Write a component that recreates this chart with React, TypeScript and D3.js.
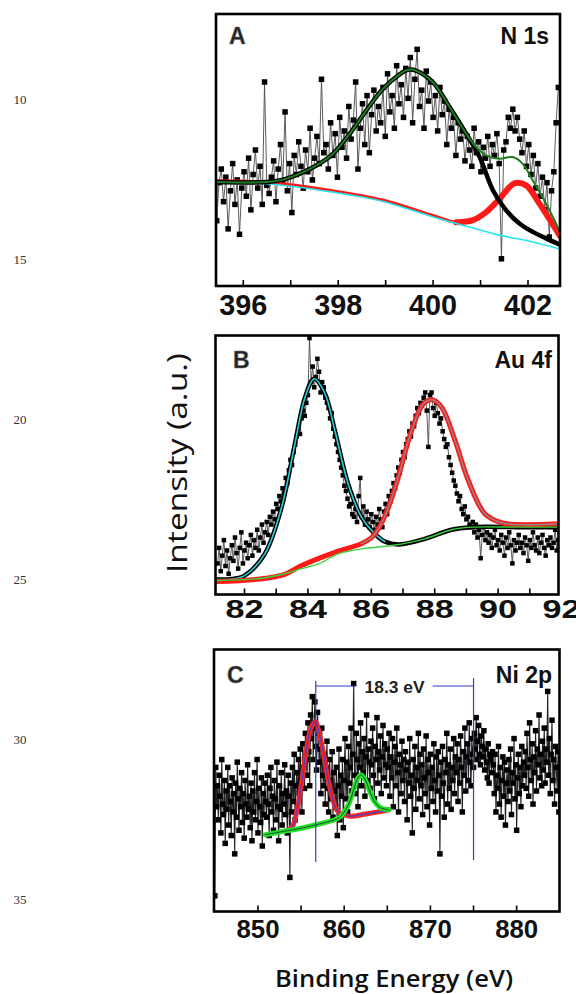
import React from 'react';
import * as d3 from 'd3';

// ---------- Panel A: N 1s ----------
const A_START = 395.44;
const A_STEP = 0.048;
const A_DATA = [
  24, 38, 43, 31, 40, 21, 35, 45, 30, 39, 19, 36,
  42, 33, 47, 28, 41, 50, 36, 44, 30, 75, 37, 34,
  40, 46, 31, 43, 52, 38, 64, 35, 45, 27, 48, 41,
  53, 44, 36, 50, 42, 58, 39, 47, 55, 45, 76, 49,
  52, 43, 60, 48, 56, 40, 62, 51, 57, 47, 66, 54,
  61, 75, 43, 58, 67, 52, 70, 49, 63, 72, 57, 66,
  60, 73, 55, 78, 64, 70, 58, 81, 67, 74, 62, 80,
  69, 84, 60, 76, 87, 66, 72, 58, 79, 68, 75, 62,
  70, 57, 73, 63, 68, 52, 65, 58, 62, 48, 60, 54,
  57, 46, 55, 50, 44, 58, 49, 53, 42, 51, 47, 55,
  44, 52, 48, 56, 45, 10, 50, 53, 62, 58, 65, 57,
  62, 54, 49, 57, 44, 52, 41, 48, 36, 45, 33, 40,
  28, 38, 18, 35, 42, 60, 73,
];
const A_BG: [number, number][] = [
  [395.435, 38.2], [396.49, 37.6], [397.89, 34.5], [398.94, 31.1], [400.0, 25.4],
  [400.49, 23.0], [401.4, 18.7], [402.1, 16.2], [402.67, 13.6],
];
const A_PEAK2: [number, number][] = [
  [395.435, 38.7], [396.49, 38.1], [397.89, 35.0], [398.94, 31.6], [400.0, 25.9],
  [400.49, 23.4], [400.84, 24.2], [401.12, 27.2], [401.4, 32.1], [401.72, 37.8],
  [401.96, 37.0], [402.24, 30.3], [402.67, 18.5],
];
const A_PEAK1: [number, number][] = [
  [395.435, 38.2], [396.49, 38.2], [396.84, 39.1], [397.19, 41.3], [397.54, 44.3],
  [397.89, 48.6], [398.24, 55.9], [398.59, 64.5], [398.94, 72.4], [399.3, 77.9],
  [399.47, 79.5], [399.65, 79.1], [400.0, 74.8], [400.35, 65.7], [400.7, 55.9],
  [400.98, 47.4], [401.26, 35.2], [401.54, 27.8], [401.82, 23.0], [402.1, 19.9],
  [402.38, 17.5], [402.67, 15.2],
];
const A_SUM: [number, number][] = [
  [395.435, 38.2], [396.49, 38.2], [396.84, 39.1], [397.19, 41.3], [397.54, 44.3],
  [397.89, 48.6], [398.24, 55.9], [398.59, 64.5], [398.94, 72.4], [399.3, 77.9],
  [399.47, 79.5], [399.65, 79.1], [400.0, 74.8], [400.35, 65.7], [400.7, 55.9],
  [400.91, 51.0], [401.12, 48.0], [401.4, 46.8], [401.68, 47.4], [401.89, 44.9],
  [402.1, 38.8], [402.38, 30.3], [402.67, 20.0],
];
const A_TICKS = [396, 397, 398, 399, 400, 401, 402];
const A_LABELS = [396, 398, 400, 402];

// ---------- Panel B: Au 4f ----------
const B_START = 81.15;
const B_STEP = 0.05;
const B_DATA = [
  12, 18, 9, 15, 21, 11, 17, 8, 14, 19,
  13, 22, 16, 10, 18, 24, 12, 17, 20, 14,
  19, 23, 15, 21, 18, 25, 17, 22, 27, 20,
  24, 28, 23, 30, 27, 32, 29, 35, 33, 38,
  36, 41, 39, 45, 43, 48, 52, 50, 55, 58,
  61, 64, 62, 68, 71, 69, 74, 77, 99, 82,
  88, 80, 84, 91, 86, 78, 82, 80, 76, 74,
  72, 68, 70, 64, 61, 58, 55, 52, 49, 46,
  42, 40, 37, 34, 35, 31, 30, 33, 28, 38,
  45, 30, 34, 27, 32, 29, 26, 31, 28, 25,
  30, 27, 33, 29, 26, 32, 35, 31, 38, 36,
  40, 43, 41, 46, 49, 47, 52, 55, 53, 58,
  60, 63, 61, 66, 65, 69, 72, 70, 74, 73,
  76, 78, 71, 57, 77, 78, 72, 69, 74, 70,
  66, 68, 63, 60, 57, 58, 53, 50, 47, 44,
  42, 39, 36, 38, 33, 31, 34, 29, 30, 27,
  26, 28, 24, 27, 22, 25, 14, 23, 26, 21,
  24, 20, 23, 18, 22, 25, 19, 21, 17, 23,
  20, 15, 22, 18, 24, 19, 12, 21, 17, 20,
  23, 18, 20, 16, 22, 19, 13, 21, 18, 24,
  19, 17, 22, 16, 20, 23, 18, 15, 21, 19,
  22, 18, 20, 25, 17, 21, 24, 26,
];
const B_BG: [number, number][] = [
  [81.09, 5.4], [82.5, 6.2], [83.27, 8.0], [83.8, 10.0], [84.33, 11.8], [84.96, 15.7],
  [85.69, 17.6], [86.64, 18.9], [87.69, 21.5], [88.53, 25.0], [89.16, 26.0],
  [90.64, 26.0], [91.9, 26.0],
];
const B_PEAK1: [number, number][] = [
  [81.09, 5.8], [81.6, 6.0], [82.0, 7.3], [82.64, 15.7], [83.17, 33.7], [83.59, 58.2],
  [83.91, 76.2], [84.2, 83.3], [84.54, 77.5], [84.85, 63.3], [85.27, 42.7],
  [85.69, 29.9], [86.11, 23.4], [86.43, 20.4], [86.85, 19.3], [87.69, 21.5],
  [88.53, 25.0], [89.16, 26.0], [90.64, 26.0], [91.9, 26.0],
];
const B_PEAK2: [number, number][] = [
  [81.09, 5.0], [82.5, 6.0], [83.27, 7.8], [83.8, 11.2], [84.85, 16.3], [85.68, 19.6],
  [86.01, 22.0], [86.3, 27.0], [86.58, 35.0], [86.85, 45.3], [87.27, 63.3],
  [87.64, 73.6], [87.92, 75.2], [88.22, 72.3], [88.64, 59.5], [89.06, 44.0],
  [89.58, 31.2], [90.11, 27.7], [90.64, 27.0], [91.9, 27.3],
];
const B_TICKS = [82, 83, 84, 85, 86, 87, 88, 89, 90, 91];
const B_LABELS = [82, 84, 86, 88, 90, 92];

// ---------- Panel C: Ni 2p ----------
const C_START = 845.0;
const C_STEP = 0.1;
const C_DATA = [
  6, 55, 40, 48, 35, 52, 44, 30, 58, 41, 37, 50, 26, 46, 39, 55, 33, 48, 42, 29,
  51, 38, 45, 22, 49, 36, 57, 43, 31, 47, 40, 53, 34, 45, 28, 50, 41, 36, 56, 39,
  44, 32, 49, 27, 46, 38, 53, 35, 42, 58, 30, 47, 40, 34, 51, 25, 45, 37, 49, 42,
  36, 52, 41, 29, 47, 55, 38, 44, 31, 50, 43, 35, 57, 40, 27, 48, 39, 53, 33, 45,
  41, 56, 37, 46, 30, 52, 44, 13, 49, 38, 55, 42, 60, 35, 48, 53, 40, 58, 45, 62,
  50, 38, 64, 55, 47, 68, 58, 52, 72, 61, 48, 75, 66, 82, 58, 70, 80, 63, 54, 76,
  68, 57, 62, 45, 70, 52, 48, 60, 41, 55, 65, 47, 38, 58, 50, 43, 61, 36, 53, 46,
  40, 55, 29, 48, 62, 35, 52, 44, 58, 32, 50, 66, 43, 57, 38, 63, 49, 55, 70, 46,
  60, 87, 52, 45, 68, 58, 40, 64, 55, 72, 48, 61, 53, 66, 44, 59, 75, 50, 62, 57,
  47, 65, 56, 70, 52, 43, 63, 58, 74, 49, 61, 54, 67, 45, 59, 71, 51, 64, 56, 48,
  62, 55, 68, 44, 59, 51, 66, 40, 57, 63, 48, 70, 53, 38, 60, 56, 45, 65, 50, 58,
  42, 61, 54, 35, 57, 49, 66, 44, 52, 30, 58, 47, 63, 39, 55, 50, 68, 43, 60, 48,
  56, 37, 62, 51, 45, 67, 40, 58, 53, 33, 60, 47, 55, 42, 64, 50, 38, 59, 46, 61,
  52, 22, 57, 44, 63, 49, 36, 58, 53, 68, 41, 56, 47, 62, 39, 55, 50, 66, 45, 59,
  53, 64, 42, 58, 49, 67, 55, 38, 61, 52, 70, 46, 59, 64, 50, 72, 57, 48, 66, 60,
  55, 68, 62, 74, 58, 65, 71, 60, 56, 67, 63, 59, 69, 54, 62, 57, 51, 64, 49, 60,
  58, 53, 61, 56, 45, 60, 38, 52, 47, 63, 41, 55, 36, 50, 59, 44, 57, 33, 49, 54,
  42, 58, 46, 62, 37, 53, 49, 66, 43, 56, 31, 51, 60, 45, 55, 40, 63, 48, 57, 52,
  61, 47, 68, 55, 44, 72, 58, 50, 64, 41, 59, 53, 69, 46, 62, 56, 75, 51, 60, 48,
  65, 54, 70, 49, 62, 57, 84, 52, 66, 45, 60, 73, 50, 58, 41, 63, 55, 46, 61, 38,
];
const C_RED: [number, number][] = [
  [853.25, 30.8], [854.0, 32.5], [854.6, 40.0], [855.1, 50.0], [855.55, 60.3],
  [856.15, 70.0], [856.65, 72.4], [857.1, 68.0], [857.6, 60.3], [858.1, 51.0],
  [858.6, 43.8], [859.0, 39.5], [859.4, 37.8], [860.5, 36.4], [862.5, 37.2], [865.2, 38.8],
];
const C_GREEN: [number, number][] = [
  [850.85, 29.3], [853.0, 30.6], [855.0, 31.8], [857.0, 33.3], [858.9, 35.0],
  [859.6, 36.3], [860.1, 38.5], [860.6, 41.5], [861.1, 46.5], [861.6, 51.0],
  [861.95, 52.1], [862.4, 50.5], [862.9, 46.5], [863.5, 42.0], [864.2, 39.6], [865.2, 38.8],
];
const C_TICKS = [850, 855, 860, 865, 870, 875, 880];
const C_LABELS = [850, 860, 870, 880];
const C_MARK_E = [856.7, 875.0];
const C_SPLIT = '18.3 eV';

const LINE_NUMBERS = ['10', '15', '20', '25', '30', '35'];

const FONT = '"Liberation Sans", Arial, sans-serif';

type Pt = [number, number];
type Fit = { pts: Pt[]; color: string; width: number };

interface PanelProps {
  id: string;
  fx0: number; fx1: number; fy0: number; fy1: number;
  xDom: [number, number];
  ticks: number[];
  labels: number[];
  labelY: number;
  labelSize: number;
  labelLen: number;
  data: number[];
  start: number;
  step: number;
  marker: number;
  lineColor: string;
  lineWidth: number;
  fits: Fit[];
  letter: string;
  letterPos: [number, number];
  title: string;
  titlePos: [number, number];
  titleSize: number;
  extra?: (x: d3.ScaleLinear<number, number>, y: d3.ScaleLinear<number, number>) => React.ReactNode;
}

function Panel(p: PanelProps) {
  const x = d3.scaleLinear().domain(p.xDom).range([p.fx0, p.fx1]);
  const y = d3.scaleLinear().domain([0, 100]).range([p.fy1, p.fy0]);
  const pts: Pt[] = p.data.map((v, i) => [p.start + p.step * i, v]);
  const dataLine = d3.line<Pt>().x(d => x(d[0])).y(d => y(d[1]));
  const fitLine = d3.line<Pt>().x(d => x(d[0])).y(d => y(d[1])).curve(d3.curveCatmullRom.alpha(0.5));
  const m = p.marker;
  return (
    <g>
      <defs>
        <clipPath id={p.id}>
          <rect x={p.fx0} y={p.fy0} width={p.fx1 - p.fx0} height={p.fy1 - p.fy0} />
        </clipPath>
      </defs>
      <g clipPath={`url(#${p.id})`}>
        <path d={dataLine(pts) || ''} fill="none" stroke={p.lineColor} strokeWidth={p.lineWidth} />
        {pts.map((d, i) => (
          <rect key={i} x={x(d[0]) - m / 2} y={y(d[1]) - m / 2} width={m} height={m} fill="#000" />
        ))}
        {p.fits.map((f, i) => (
          <path key={i} d={fitLine(f.pts) || ''} fill="none" stroke={f.color} strokeWidth={f.width}
            strokeLinecap="round" strokeLinejoin="round" />
        ))}
      </g>
      {p.extra ? p.extra(x, y) : null}
      <rect x={p.fx0} y={p.fy0} width={p.fx1 - p.fx0} height={p.fy1 - p.fy0} fill="none" stroke="#000" strokeWidth={2.6} />
      {p.ticks.map(t => (
        <line key={t} x1={x(t)} x2={x(t)} y1={p.fy1} y2={p.fy1 - 6} stroke="#000" strokeWidth={1.6} />
      ))}
      {p.labels.map(t => (
        <text key={t} x={x(t)} y={p.labelY} textAnchor="middle" fontFamily={FONT} fontWeight="bold"
          fontSize={p.labelSize} textLength={p.labelLen} lengthAdjust="spacingAndGlyphs" fill="#111">{t}</text>
      ))}
      <text x={p.letterPos[0]} y={p.letterPos[1]} fontFamily={FONT} fontWeight="bold" fontSize={p.titleSize}
        fill="#222" stroke="#777" strokeWidth={0.6}>{p.letter}</text>
      <text x={p.titlePos[0]} y={p.titlePos[1]} textAnchor="end" fontFamily={FONT} fontWeight="bold"
        fontSize={p.titleSize} fill="#111">{p.title}</text>
    </g>
  );
}

export default function App() {
  return (
    <svg width={576} height={994} style={{ position: 'absolute', left: 0, top: 0, background: '#fff' }}>
      <rect x={0} y={0} width={576} height={994} fill="#fff" />
      {LINE_NUMBERS.map((t, i) => (
        <text key={t} x={20} y={104 + i * 160} textAnchor="middle" fontFamily='"Liberation Serif", "Times New Roman", serif'
          fontSize={13} fill="#333">{t}</text>
      ))}

      <Panel id="clipA" fx0={216} fx1={560} fy0={14} fy1={286} xDom={[395.425, 402.674]}
        ticks={A_TICKS} labels={A_LABELS} labelY={315} labelSize={30} labelLen={48}
        data={A_DATA} start={A_START} step={A_STEP} marker={5.5} lineColor="#4a4a4a" lineWidth={0.9}
        fits={[
          { pts: A_PEAK2, color: '#ff1a1a', width: 3 },
          { pts: A_PEAK2.filter(d => d[0] >= 400.3), color: '#ff1a1a', width: 6 },
          { pts: A_BG, color: '#22e6f0', width: 1.6 },
          { pts: A_PEAK1, color: '#000', width: 4.5 },
          { pts: A_SUM, color: '#1e7d1e', width: 2 },
        ]}
        letter="A" letterPos={[229, 44]} title="N 1s" titlePos={[549, 44]} titleSize={23}
        extra={(x, y) => (
          <line x1={x(395.44)} x2={x(395.44)} y1={y(38.7)} y2={y(25)} stroke="#ff1a1a" strokeWidth={2} />
        )}
      />

      <Panel id="clipB" fx0={215.5} fx1={558.5} fy0={335.5} fy1={594.5} xDom={[81.085, 91.905]}
        ticks={B_TICKS} labels={B_LABELS} labelY={618} labelSize={25.5} labelLen={38}
        data={B_DATA} start={B_START} step={B_STEP} marker={4.5} lineColor="#4a4a4a" lineWidth={0.9}
        fits={[
          { pts: B_PEAK1, color: '#000', width: 4.5 },
          { pts: B_PEAK1.filter(d => d[0] <= 86.5), color: '#2ad0d8', width: 1.6 },
          { pts: B_PEAK2, color: '#ff1a1a', width: 5 },
          { pts: B_PEAK2.filter(d => d[0] >= 85.6), color: '#8c8c8c', width: 1.4 },
          { pts: B_BG, color: '#3ad23a', width: 1.4 },
        ]}
        letter="B" letterPos={[233, 368]} title="Au 4f" titlePos={[552, 368]} titleSize={23}
      />

      <Panel id="clipC" fx0={214} fx1={559.5} fy0={649.5} fy1={911.5} xDom={[844.9, 884.97]}
        ticks={C_TICKS} labels={C_LABELS} labelY={938} labelSize={25.5} labelLen={43}
        data={C_DATA} start={C_START} step={C_STEP} marker={5.5} lineColor="#222" lineWidth={1.1}
        fits={[
          { pts: C_RED, color: '#ff2020', width: 5 },
          { pts: C_RED, color: '#4444c8', width: 1.2 },
          { pts: C_GREEN, color: '#22e022', width: 5 },
          { pts: C_GREEN, color: '#1d4a4a', width: 1 },
        ]}
        letter="C" letterPos={[227, 683]} title="Ni 2p" titlePos={[552, 683]} titleSize={23}
        extra={(x) => {
          const xa = x(C_MARK_E[0]);
          const xb = x(C_MARK_E[1]);
          const mid = (xa + xb) / 2;
          return (
            <g stroke="#3a3acc" strokeWidth={1.2}>
              <line x1={xa} x2={xa} y1={681} y2={862} />
              <line x1={xb} x2={xb} y1={678} y2={860} />
              <line x1={xa} x2={mid - 40} y1={686} y2={686} />
              <line x1={mid + 38} x2={xb} y1={686} y2={686} />
              <text x={mid} y={693} textAnchor="middle" fontFamily={FONT} fontWeight="bold" fontSize={16}
                stroke="none" fill="#222" textLength={60} lengthAdjust="spacingAndGlyphs">{C_SPLIT}</text>
            </g>
          );
        }}
      />

      <text transform="translate(187,463) rotate(-90)" textAnchor="middle" fontFamily='"Open Sans", sans-serif'
        fontSize={28} fill="#111" textLength={220} lengthAdjust="spacingAndGlyphs">Intensity (a.u.)</text>
      <text x={394} y={987} textAnchor="middle" fontFamily='"Open Sans", sans-serif' fontWeight={600}
        fontSize={23} fill="#111" textLength={238} lengthAdjust="spacingAndGlyphs">Binding Energy (eV)</text>
    </svg>
  );
}
